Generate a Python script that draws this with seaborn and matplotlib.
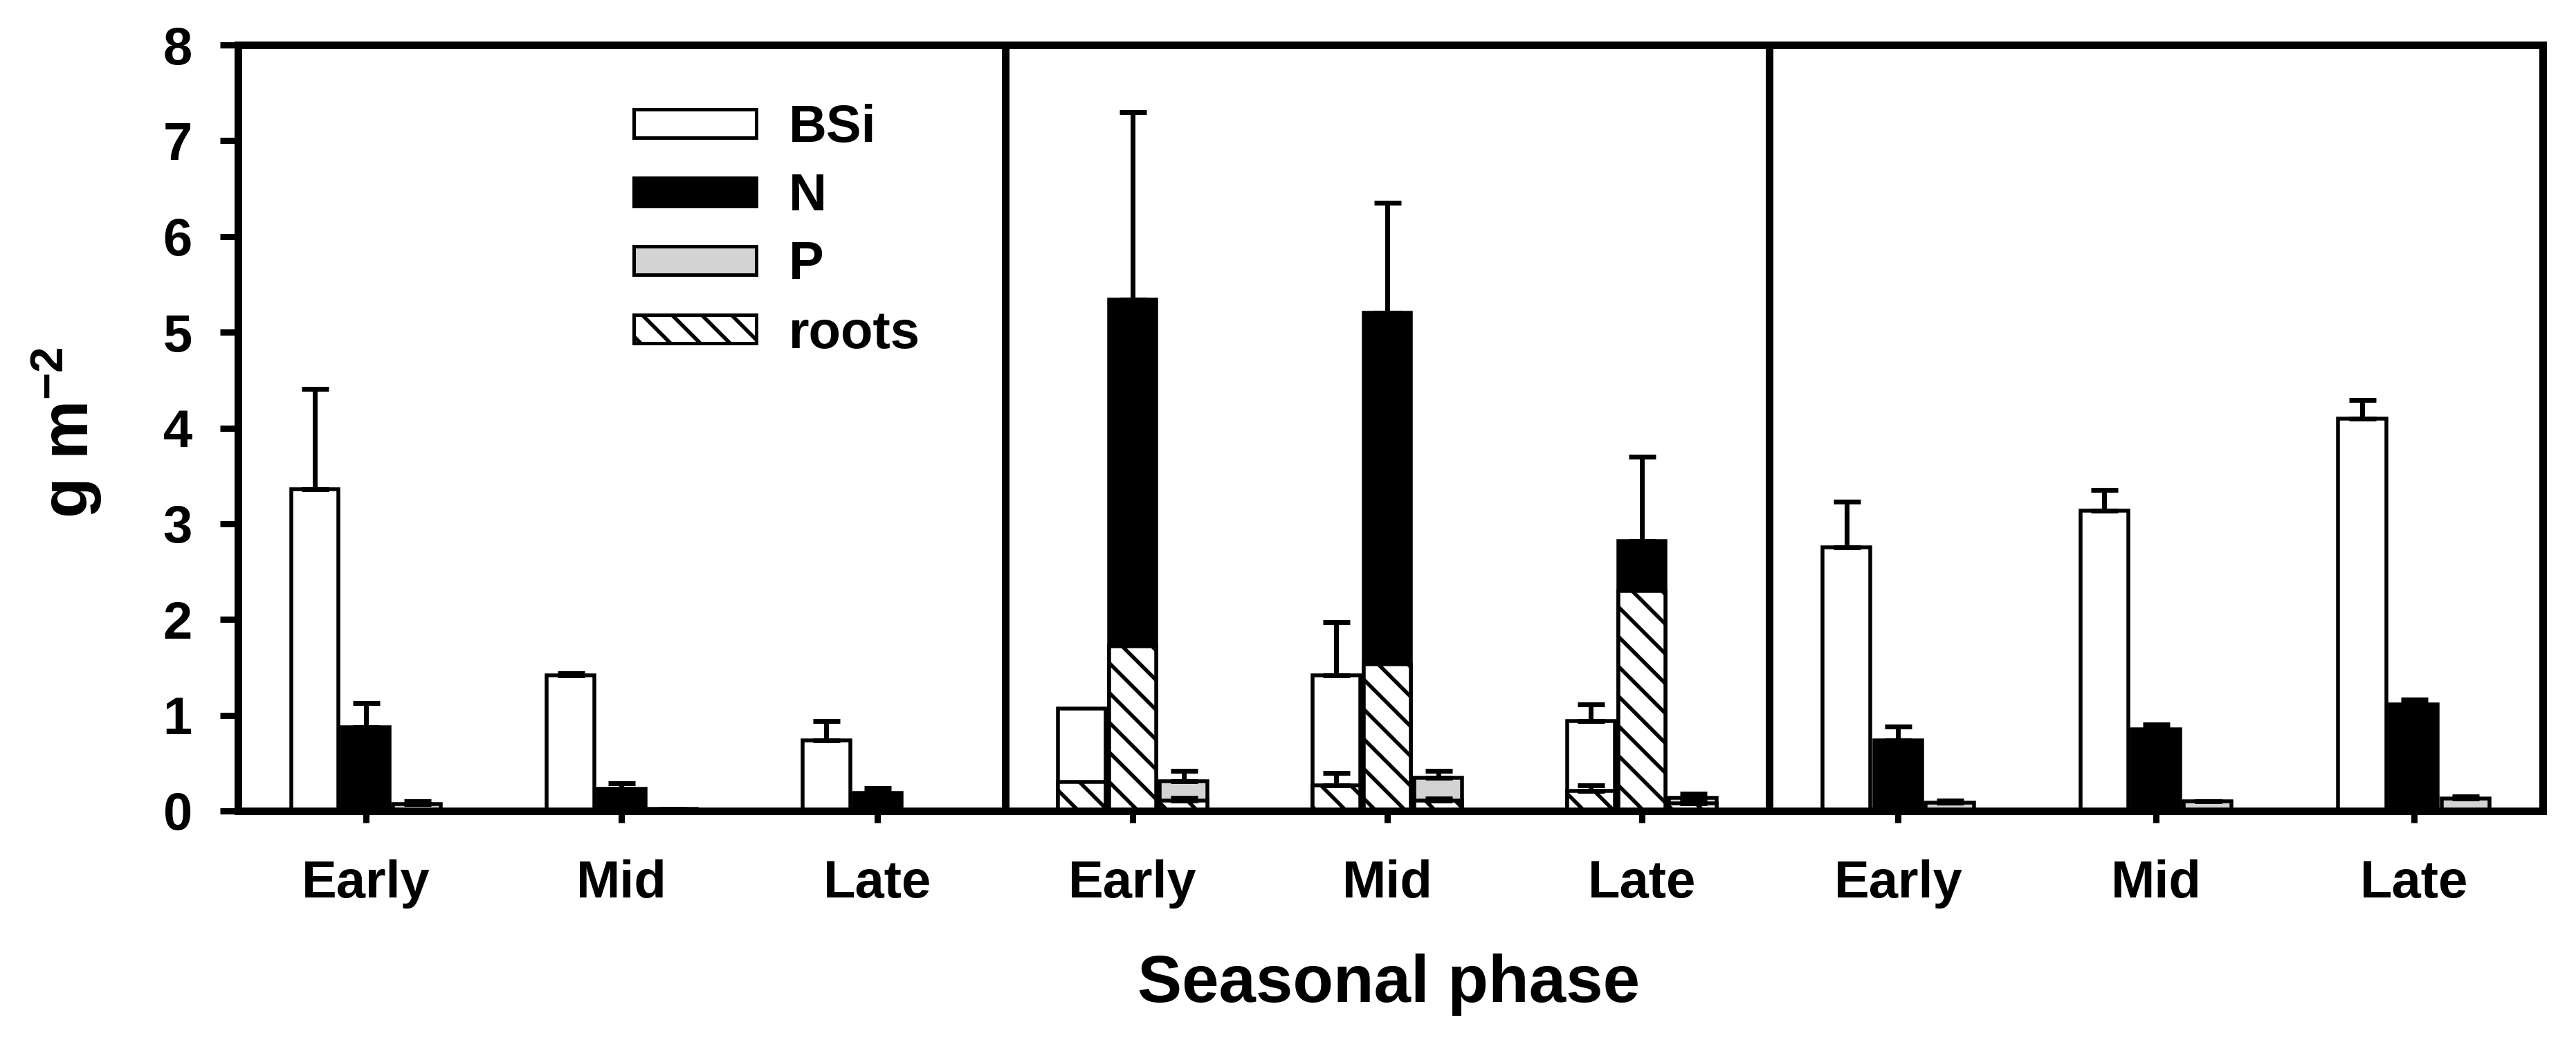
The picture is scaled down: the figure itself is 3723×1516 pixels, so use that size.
import numpy as np
import pandas as pd
import matplotlib
matplotlib.use("Agg")
import matplotlib.pyplot as plt
from matplotlib.patches import Patch
import seaborn as sns

PHASES = ["Early", "Mid", "Late"]
ELEMENTS = ["BSi", "N", "P"]

# left panel
left_bsi = [3.36, 1.415, 0.74]
left_bsi_sd = [1.05, 0.025, 0.20]
left_n = [0.875, 0.23, 0.19]
left_n_sd = [0.25, 0.06, 0.05]
left_p = [0.07, 0.02, 0.005]
left_p_sd = [0.03, 0.0, 0.0]

# middle panel: totals and the roots part of each total
mid_bsi = [1.07, 1.42, 0.94]
mid_bsi_sd = [np.nan, 0.55, 0.17]
mid_n = [5.34, 5.20, 2.82]
mid_n_sd = [1.96, 1.15, 0.88]
mid_p = [0.31, 0.35, 0.14]
mid_p_sd = [0.11, 0.07, 0.04]
roots_bsi = [0.30, 0.265, 0.21]
roots_bsi_sd = [np.nan, 0.135, 0.055]
roots_n = [1.72, 1.53, 2.30]
roots_p = [0.11, 0.11, 0.08]
roots_p_sd = [0.03, 0.02, 0.02]

# right panel
right_bsi = [2.75, 3.14, 4.10]
right_bsi_sd = [0.48, 0.21, 0.19]
right_n = [0.74, 0.85, 1.11]
right_n_sd = [0.14, 0.05, 0.05]
right_p = [0.09, 0.10, 0.13]
right_p_sd = [0.015, 0.0, 0.02]

DPI = 258
W, H = 3723, 1516
HATCH = "\\\\"


def pt(px):
    return px * 72 / DPI


def long_table(bsi, n, p):
    rows = []
    for el, vals in zip(ELEMENTS, [bsi, n, p]):
        for ph, v in zip(PHASES, vals):
            rows.append({"phase": ph, "element": el, "value": v})
    return pd.DataFrame(rows)


def draw_bars(ax, df, palette):
    sns.barplot(data=df, x="phase", y="value", hue="element",
                order=PHASES, hue_order=ELEMENTS, palette=palette,
                width=0.6, gap=0.07, saturation=1, errorbar=None,
                edgecolor="black", linewidth=pt(5.5), legend=False, ax=ax)


def add_err(ax, container, tops, sd):
    xs, ys, es = [], [], []
    for p, t, s in zip(container, tops, sd):
        if np.isnan(s):
            continue
        xs.append(p.get_x() + p.get_width() / 2)
        ys.append(t)
        es.append(s)
    ax.errorbar(xs, ys, yerr=[np.zeros(len(es)), es], fmt="none",
                ecolor="black", elinewidth=pt(7), capsize=pt(19.5),
                capthick=pt(7), zorder=5)


sns.set_theme(style="ticks", rc={"axes.edgecolor": "black",
                                 "xtick.color": "black",
                                 "ytick.color": "black",
                                 "text.color": "black",
                                 "axes.labelcolor": "black"})
plt.rcParams["font.family"] = ["Liberation Sans", "DejaVu Sans"]
plt.rcParams["font.weight"] = "bold"
plt.rcParams["mathtext.fontset"] = "custom"
plt.rcParams["mathtext.rm"] = "Liberation Sans:bold"
plt.rcParams["mathtext.bf"] = "Liberation Sans:bold"
plt.rcParams["mathtext.default"] = "bf"
plt.rcParams["hatch.linewidth"] = pt(5.5)
plt.rcParams["hatch.color"] = "black"

colors = {"BSi": "white", "N": "black", "P": "#d3d3d3"}
white = {"BSi": "white", "N": "white", "P": "white"}

fig = plt.figure(figsize=(W / DPI, H / DPI), dpi=DPI)
panel_px = [(344, 1453), (1453, 2557), (2557, 3675)]
top, bottom = 65, 1172
axes = []
for l, r in panel_px:
    axes.append(fig.add_axes([l / W, 1 - bottom / H, (r - l) / W, (bottom - top) / H]))

# left
ax = axes[0]
draw_bars(ax, long_table(left_bsi, left_n, left_p), colors)
for c, tops, sd in zip(ax.containers[:3], [left_bsi, left_n, left_p],
                       [left_bsi_sd, left_n_sd, left_p_sd]):
    add_err(ax, c, tops, sd)

# middle
ax = axes[1]
draw_bars(ax, long_table(mid_bsi, mid_n, mid_p), colors)
draw_bars(ax, long_table(roots_bsi, roots_n, roots_p), white)
for c in ax.containers[3:6]:
    for p in c:
        p.set_hatch(HATCH)
for c, tops, sd in zip(ax.containers[:3], [mid_bsi, mid_n, mid_p],
                       [mid_bsi_sd, mid_n_sd, mid_p_sd]):
    add_err(ax, c, tops, sd)
add_err(ax, ax.containers[3], roots_bsi, roots_bsi_sd)
add_err(ax, ax.containers[5], roots_p, roots_p_sd)

# right
ax = axes[2]
draw_bars(ax, long_table(right_bsi, right_n, right_p), colors)
for c, tops, sd in zip(ax.containers[:3], [right_bsi, right_n, right_p],
                       [right_bsi_sd, right_n_sd, right_p_sd]):
    add_err(ax, c, tops, sd)

for i, ax in enumerate(axes):
    ax.set_xlim(-0.5, 2.5)
    ax.set_ylim(0, 8)
    ax.set_yticks(range(9))
    ax.set_xlabel("")
    ax.set_ylabel("")
    for s in ax.spines.values():
        s.set_visible(True)
        s.set_linewidth(pt(11))
        s.set_color("black")
    ax.tick_params(axis="x", length=pt(17), width=pt(9), pad=pt(53),
                   labelsize=pt(76), labelcolor="black")
    if i == 0:
        ax.tick_params(axis="y", length=pt(26), width=pt(9), pad=pt(40),
                       labelsize=pt(76), labelcolor="black")
    else:
        ax.tick_params(axis="y", left=False, labelleft=False)

handles = [
    Patch(facecolor="white", edgecolor="black", linewidth=pt(5)),
    Patch(facecolor="black", edgecolor="black", linewidth=pt(5)),
    Patch(facecolor="#d3d3d3", edgecolor="black", linewidth=pt(5)),
    Patch(facecolor="white", edgecolor="black", linewidth=pt(5), hatch=HATCH),
]
leg = axes[0].legend(handles, ["BSi", "N", "P", "roots"], loc="upper left",
                     bbox_to_anchor=(0.516, 0.923), frameon=False, borderpad=0,
                     borderaxespad=0, handlelength=177 / 76, handleheight=34 / 76,
                     handletextpad=47 / 76, labelspacing=0.37, fontsize=pt(76))
for t in leg.get_texts():
    t.set_color("black")

fig.text(2007 / W, 1 - 1448 / H, "Seasonal phase", ha="center", va="baseline",
         fontsize=pt(96), fontweight="bold", color="black")
fig.text(96 / W, 1 - 625 / H, "g m$^{-2}$", rotation=90, ha="center",
         va="center", fontsize=pt(96), fontweight="bold", color="black")

fig.savefig("out.png", dpi=DPI)
